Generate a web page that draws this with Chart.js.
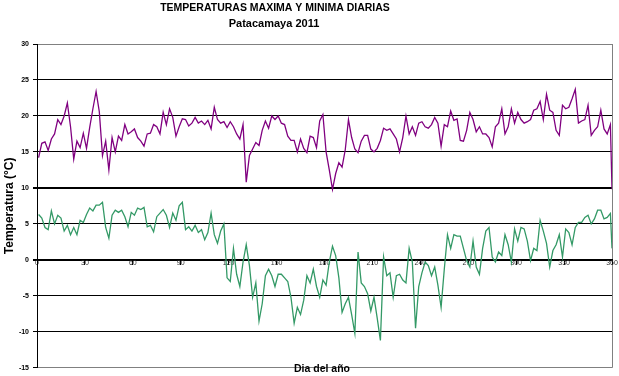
<!DOCTYPE html>
<html><head><meta charset="utf-8">
<script src="https://cdn.jsdelivr.net/npm/chart.js@4/dist/chart.umd.min.js"></script>
<style>html,body{margin:0;padding:0;background:#fff}#wrap{width:619px;height:376px}</style>
</head><body><div id="wrap"><canvas id="c" width="619" height="376"></canvas></div>
<script>
const days = [1,3,5,7,9,11,13,15,17,19,21,23,25,27,29,31,33,35,37,39,41,43,45,47,49,51,53,55,57,59,61,63,65,67,69,71,73,75,77,79,81,83,85,87,89,91,93,95,97,99,101,103,105,107,109,111,113,115,117,119,121,123,125,127,129,131,133,135,137,139,141,143,145,147,149,151,153,155,157,159,161,163,165,167,169,171,173,175,177,179,181,183,185,187,189,191,193,195,197,199,201,203,205,207,209,211,213,215,217,219,221,223,225,227,229,231,233,235,237,239,241,243,245,247,249,251,253,255,257,259,261,263,265,267,269,271,273,275,277,279,281,283,285,287,289,291,293,295,297,299,301,303,305,307,309,311,313,315,317,319,321,323,325,327,329,331,333,335,337,339,341,343,345,347,349,351,353,355,357,359,360];
const tmax = [
14.2,16.2,16.4,15.2,16.8,17.5,19.5,18.8,20.0,21.8,
18.5,14.0,16.5,15.6,17.6,15.5,18.4,21.0,23.4,20.6,
14.5,16.5,12.5,17.0,15.0,17.2,16.6,18.8,17.5,17.8,
18.2,17.0,16.5,15.8,17.5,17.6,18.8,18.5,17.5,20.5,
18.8,21.0,19.8,17.2,18.5,19.6,19.5,18.6,19.0,19.8,
19.0,19.3,18.8,19.4,18.2,21.2,19.5,19.0,19.2,18.4,
19.2,18.5,17.5,16.8,18.8,10.8,14.5,15.4,16.3,15.9,
18.0,19.3,18.3,20.0,19.5,20.0,19.0,18.8,17.2,16.6,
16.6,15.0,16.8,15.5,14.9,17.2,17.0,15.6,19.3,20.2,
15.0,12.5,9.8,12.0,13.5,12.9,15.3,19.5,17.0,15.4,
14.9,16.5,17.3,17.3,15.4,15.0,15.5,16.6,18.3,18.0,
18.2,17.5,16.8,15.0,17.0,20.0,17.5,18.5,17.3,19.0,
19.2,18.5,18.3,18.8,19.8,19.0,15.8,18.8,18.5,20.7,
19.4,19.6,16.6,16.5,18.0,20.5,19.5,17.8,18.5,17.5,
17.5,17.0,15.7,18.5,19.0,21.0,17.5,18.5,21.0,19.0,
20.5,19.5,19.0,19.2,19.5,20.8,21.0,22.0,19.5,23.0,
20.8,20.5,18.0,17.3,21.5,21.0,21.2,22.4,23.7,19.0,
19.3,19.5,21.5,17.3,18.0,18.5,20.8,18.2,17.5,18.8,9.8];
const tmin = [
6.3,5.8,4.5,4.2,6.8,5.0,6.2,5.8,4.0,4.8,
3.5,4.5,3.5,5.5,5.2,6.3,7.2,6.8,7.6,7.6,
8.0,4.5,3.0,6.2,6.9,6.6,6.9,6.0,4.6,6.6,
6.2,7.2,7.0,7.3,4.6,4.8,3.9,6.0,6.5,7.0,
6.2,4.5,6.5,5.5,7.5,8.0,4.2,4.6,4.0,4.8,
3.8,4.2,2.8,3.8,6.5,3.5,2.3,4.0,5.0,-2.5,
-3.0,1.6,-2.0,-3.7,-0.3,2.1,-0.8,-5.2,-3.2,-8.5,
-6.1,-2.2,-1.3,-2.2,-3.7,-2.0,-2.0,-2.5,-3.0,-5.2,
-8.8,-6.6,-7.6,-5.6,-2.2,-3.2,-1.3,-3.7,-5.2,-2.8,
-3.5,-0.3,1.9,0.6,-2.5,-7.3,-6.1,-5.2,-7.6,-10.2,
1.1,-3.2,-3.7,-4.7,-7.1,-5.2,-8.1,-11.2,0.4,-2.2,
-1.8,-5.2,-2.2,-2.0,-2.8,-3.2,1.6,-0.3,-9.5,-3.7,
-1.8,-0.3,-0.8,-2.2,-1.0,-3.5,-6.6,-1.3,3.5,1.6,
3.5,3.3,3.3,1.6,-0.1,-1.0,2.6,-1.0,-2.0,1.6,
4.0,4.5,0.4,-0.3,1.1,0.6,3.5,2.1,-0.3,4.3,
2.6,4.5,4.3,2.6,-0.1,1.6,1.3,5.5,4.0,2.3,
-1.0,1.3,2.1,3.5,0.4,4.3,3.8,2.1,4.5,5.2,
5.2,5.9,6.2,5.0,5.7,6.9,6.9,5.7,5.9,6.45,1.6];
const xTicks = [0,30,60,90,120,150,180,210,240,270,300,330,360];
const yTicks = [-15,-10,-5,0,5,10,15,20,25,30];
const titleText = 'TEMPERATURAS MAXIMA Y MINIMA DIARIAS';
const subtitleText = 'Patacamaya 2011';
const xTitle = 'Dia del año';
const yTitle = 'Temperatura (°C)';
const seriesNames = ['Máxima', 'Mínima'];

const FONT = '"Liberation Sans", Arial, sans-serif';
Chart.defaults.font.family = FONT;
Chart.defaults.color = '#000';

const pts = vals => days.map((d, i) => ({x: d, y: vals[i]}));

const textPlugin = {
  id: 'chartTexts',
  afterDraw(chart) {
    const ctx = chart.ctx;
    ctx.save();
    ctx.fillStyle = '#000';
    ctx.textAlign = 'center';
    ctx.textBaseline = 'middle';
    ctx.font = 'bold 10.5px ' + FONT;
    ctx.fillText(titleText, 275, 8);
    ctx.font = 'bold 11px ' + FONT;
    ctx.fillText(subtitleText, 274, 24);
    ctx.font = 'bold 10.5px ' + FONT;
    ctx.fillText(xTitle, 322, 369);
    ctx.restore();
  }
};

new Chart(document.getElementById('c'), {
  type: 'line',
  data: {
    datasets: [
      {label: seriesNames[0], data: pts(tmax), borderColor: '#800080', borderWidth: 1.3, pointRadius: 0, tension: 0, fill: false},
      {label: seriesNames[1], data: pts(tmin), borderColor: '#339966', borderWidth: 1.3, pointRadius: 0, tension: 0, fill: false}
    ]
  },
  plugins: [textPlugin],
  options: {
    responsive: false,
    animation: false,
    devicePixelRatio: 1,
    layout: {padding: {left: 0, right: 7, top: 44, bottom: 0}},
    plugins: {
      legend: {display: false},
      tooltip: {enabled: false},
      title: {display: false},
      subtitle: {display: false}
    },
    scales: {
      x: {
        type: 'linear',
        position: {y: 0},
        min: xTicks[0], max: xTicks[xTicks.length - 1],
        afterBuildTicks: s => { s.ticks = xTicks.map(v => ({value: v})); },
        afterFit: s => { s.height = 23; },
        ticks: {font: {size: 7}, color: '#333', padding: -5, maxRotation: 0, autoSkip: false},
        grid: {
          color: c => (c.tick && c.tick.value === 360) ? '#808080' : 'rgba(0,0,0,0)',
          tickColor: '#000', tickLength: 4, lineWidth: 1
        },
        border: {display: true, color: '#000', width: 2},
        title: {display: false}
      },
      y: {
        type: 'linear',
        min: yTicks[0], max: yTicks[yTicks.length - 1],
        afterBuildTicks: s => { s.ticks = yTicks.map(v => ({value: v})); },
        afterFit: s => { s.width = 37; },
        ticks: {font: {size: 7, weight: 'bold'}, color: '#000', padding: 4},
        grid: {
          color: c => (c.tick && (c.tick.value === 30 || c.tick.value === -15)) ? '#808080' : '#000',
          lineWidth: c => (c.tick && (c.tick.value === 10 || c.tick.value === 0)) ? 2 : 1,
          tickColor: '#000', tickLength: 4
        },
        border: {display: true, color: '#000', width: 1},
        title: {display: true, text: yTitle, font: {size: 12, weight: 'bold'}, color: '#000', padding: {top: 2, bottom: 2}}
      }
    }
  }
});
</script></body></html>
